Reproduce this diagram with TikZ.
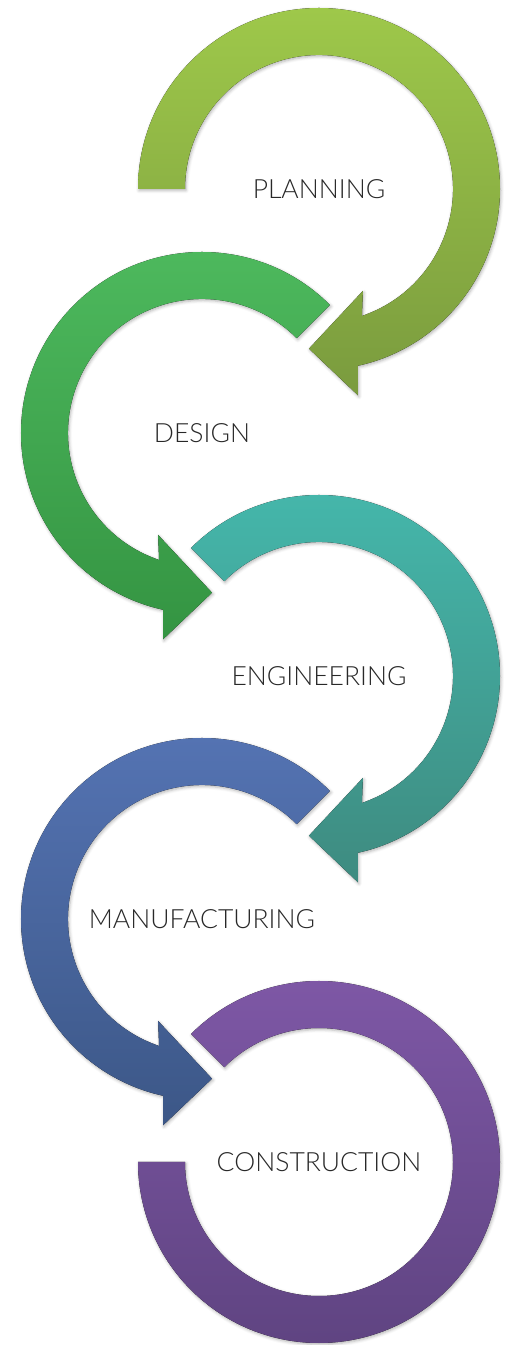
\documentclass[tikz,border=0pt]{standalone}
\usepackage{fontspec}
\setmainfont{Lato}[UprightFont={* Light}]
\usetikzlibrary{shadows.blur}
\definecolor{planTop}{RGB}{158,200,74}
\definecolor{planBot}{RGB}{122,155,62}
\definecolor{desTop}{RGB}{78,186,94}
\definecolor{desBot}{RGB}{52,148,66}
\definecolor{engTop}{RGB}{69,184,172}
\definecolor{engBot}{RGB}{62,139,128}
\definecolor{manTop}{RGB}{85,116,180}
\definecolor{manBot}{RGB}{60,87,135}
\definecolor{conTop}{RGB}{127,88,167}
\definecolor{conBot}{RGB}{94,67,128}
\definecolor{textGray}{RGB}{40,40,40}
\begin{document}
\begin{tikzpicture}[x=1pt,y=1pt,
  ring/.style={blur shadow={shadow xshift=1pt,shadow yshift=-1.5pt,shadow blur radius=3pt,shadow opacity=30}},
  stagetext/.style={font=\fontsize{26.5}{32}\selectfont, text=textGray}]
\useasboundingbox (0,0) rectangle (509,1345);

\begin{scope}[shift={(319,1156)}]
\fill[ring, top color=planTop, bottom color=planBot] (180:181) arc[start angle=180, end angle=-77.6, radius=181pt] -- (-79.3:210) -- (-93.6:160) -- (-66.7:111) -- (-71.3:134) arc[start angle=-71.3, end angle=180, radius=134pt] -- cycle;
\end{scope}

\begin{scope}[shift={(202,912)}]
\fill[ring, top color=desTop, bottom color=desBot] (45:181) arc[start angle=45, end angle=257.6, radius=181pt] -- (259.3:210) -- (273.6:160) -- (246.7:111) -- (251.3:134) arc[start angle=251.3, end angle=45, radius=134pt] -- cycle;
\end{scope}

\begin{scope}[shift={(319,669)}]
\fill[ring, top color=engTop, bottom color=engBot] (135:181) arc[start angle=135, end angle=-77.6, radius=181pt] -- (-79.3:210) -- (-93.6:160) -- (-66.7:111) -- (-71.3:134) arc[start angle=-71.3, end angle=135, radius=134pt] -- cycle;
\end{scope}

\begin{scope}[shift={(202,426)}]
\fill[ring, top color=manTop, bottom color=manBot] (45:181) arc[start angle=45, end angle=257.6, radius=181pt] -- (259.3:210) -- (273.6:160) -- (246.7:111) -- (251.3:134) arc[start angle=251.3, end angle=45, radius=134pt] -- cycle;
\end{scope}

\begin{scope}[shift={(319,183)}]
\fill[ring, top color=conTop, bottom color=conBot] (135:181) arc[start angle=135, end angle=-180, radius=181pt] -- (180:134) arc[start angle=-180, end angle=135, radius=134pt] -- cycle;
\end{scope}

\node[stagetext] (planning) at (319,1156) {PLANNING};
\node[stagetext] (design) at (202,912) {DESIGN};
\node[stagetext] (engineering) at (319,669) {ENGINEERING};
\node[stagetext] (manufacturing) at (202,426) {MANUFACTURING};
\node[stagetext] (construction) at (319,183) {CONSTRUCTION};
\end{tikzpicture}
\end{document}
